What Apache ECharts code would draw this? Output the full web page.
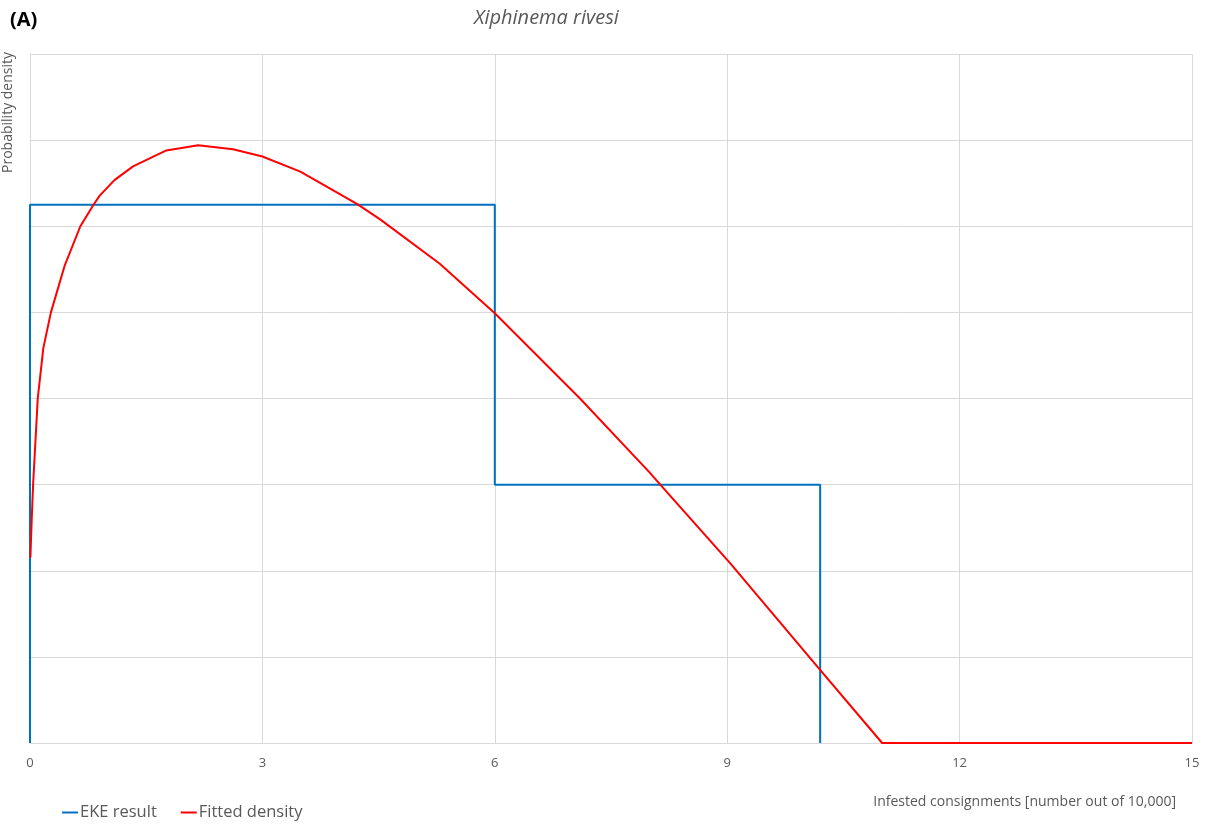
<!DOCTYPE html>
<html>
<head>
<meta charset="utf-8">
<script src="https://cdn.jsdelivr.net/npm/echarts@6/dist/echarts.min.js"></script>
<style>html,body{margin:0;padding:0;background:#fff}#c{width:1210px;height:825px}</style>
</head>
<body>
<div id="c"></div>
<script>
// EKE result (step histogram outline)
var ekeX = [0, 0, 6, 6, 10.2, 10.2];
var ekeY = [0, 0.125, 0.125, 0.06, 0.06, 0];
// Fitted density
var fitX = [0.005, 0.022, 0.04, 0.1, 0.172, 0.27, 0.45, 0.65, 0.82, 0.9, 1.09, 1.33, 1.76, 2.17, 2.62, 3.0, 3.49, 4.22, 4.52, 5.29, 6.0, 7.1, 8.0, 8.13, 9.04, 10.18, 11.0, 15];
var fitY = [0.043, 0.0518, 0.060, 0.080, 0.0917, 0.100, 0.111, 0.120, 0.125, 0.1271, 0.1307, 0.1339, 0.1376, 0.1388, 0.1379, 0.1362, 0.1327, 0.1252, 0.1216, 0.1113, 0.0998, 0.080, 0.0628, 0.0601, 0.0417, 0.0174, 0, 0];
var xTicks = [0, 3, 6, 9, 12, 15];

var ekeData = ekeX.map(function (x, i) { return [x, ekeY[i]]; });
var fitData = fitX.map(function (x, i) { return [x, fitY[i]]; });

var font = '"Open Sans", "Liberation Sans", sans-serif';
var chart = echarts.init(document.getElementById('c'));
chart.setOption({
  animation: false,
  backgroundColor: '#fff',
  title: [
    { text: '(A)', left: 5, top: 5, textStyle: { fontFamily: font, fontWeight: 'bold', fontSize: 20, color: '#000' } },
    { text: 'Xiphinema rivesi', left: 469, top: 3, textStyle: { fontFamily: font, fontStyle: 'italic', fontWeight: 'normal', fontSize: 20, color: '#595959' } }
  ],
  grid: { left: 30, right: 18, top: 54, bottom: 82, containLabel: false },
  legend: {
    left: 57, top: 799,
    icon: 'rect', itemWidth: 16, itemHeight: 2, itemGap: 24,
    textStyle: { fontFamily: font, fontSize: 16.5, color: '#595959', padding: [0, 0, 0, -3] },
    data: ['EKE result', 'Fitted density']
  },
  xAxis: {
    type: 'value', min: 0, max: 15, interval: 3,
    axisLine: { show: true, lineStyle: { color: '#d9d9d9', width: 1 } },
    axisTick: { show: false },
    axisLabel: { fontFamily: font, fontSize: 13, color: '#595959', margin: 14,
      formatter: function (v) { return xTicks.indexOf(v) >= 0 ? String(v) : ''; } },
    splitLine: { show: true, lineStyle: { color: '#d9d9d9', width: 1 } }
  },
  yAxis: {
    type: 'value', min: 0, max: 0.16, interval: 0.02,
    axisLine: { show: true, lineStyle: { color: '#d9d9d9' } },
    axisTick: { show: false },
    axisLabel: { show: false },
    splitLine: { show: true, lineStyle: { color: '#d9d9d9', width: 1 } }
  },
  graphic: [
    { type: 'text', x: 1, y: 52, rotation: Math.PI / 2,
      style: { text: 'Probability density', fontFamily: font, fontSize: 14, fill: '#595959', textAlign: 'right', textVerticalAlign: 'top' } },
    { type: 'text', x: 1176, y: 802,
      style: { text: 'Infested consignments [number out of 10,000]', fontFamily: font, fontSize: 14, fill: '#595959', textAlign: 'right', textVerticalAlign: 'middle' } }
  ],
  series: [
    { name: 'EKE result', type: 'line', data: ekeData, showSymbol: false, symbol: 'none',
      lineStyle: { color: '#0070C0', width: 2 }, itemStyle: { color: '#0070C0' }, z: 2 },
    { name: 'Fitted density', type: 'line', data: fitData, showSymbol: false, symbol: 'none', smooth: false,
      lineStyle: { color: '#FF0000', width: 2, join: 'round' }, itemStyle: { color: '#FF0000' }, z: 3 }
  ]
});
</script>
</body>
</html>
